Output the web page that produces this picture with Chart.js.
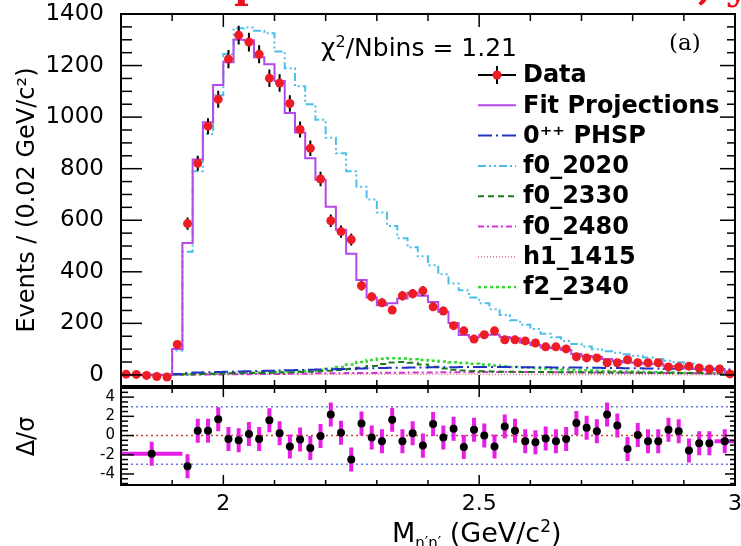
<!DOCTYPE html>
<html>
<head>
<meta charset="utf-8">
<script src="https://cdn.jsdelivr.net/npm/chart.js@4.4.1/dist/chart.umd.min.js"></script>
<style>
  html, body { margin: 0; padding: 0; background: #fff; }
  #wrap { position: relative; width: 741px; height: 546px; overflow: hidden; }
  canvas { position: absolute; left: 0; }
  #top { top: 0; }
  #bot { top: 380px; }
  .frame { position: absolute; box-sizing: border-box; border: 2px solid #000; pointer-events: none; }
  .txt { position: absolute; font-family: "DejaVu Sans", sans-serif; color: #000; white-space: nowrap; }
  .red { position: absolute; color: #e8101c; font: bold 40px "DejaVu Serif", serif; line-height: 40px; white-space: nowrap; }
</style>
</head>
<body>
<div id="wrap">
  <canvas id="top" width="741" height="394"></canvas>
  <canvas id="bot" width="741" height="166"></canvas>
  <div class="frame" style="left:120px; top:13px; width:616px; height:374px;"></div>
  <div class="frame" style="left:120px; top:387px; width:616px; height:99px;"></div>

  <div class="red" style="left:234px; top:-36px;">p</div>
  <div class="red" style="left:698px; top:-35px;">, y</div>

  <div class="txt" style="left:321px; top:27px; font-size:25px; line-height:30px;">χ<sup style="font-size:16px;">2</sup>/Nbins = 1.21</div>
  <div class="txt" style="left:669px; top:28px; font:23px 'DejaVu Serif', serif; line-height:28px;">(a)</div>
  <div class="txt" style="left:392px; top:510px; font-size:27px; line-height:32px;">M<sub style="font-size:15px;">η′η′</sub> (GeV/c<sup style="font-size:17px;">2</sup>)</div>
</div>

<script>
// ---- binning: 60 bins of 0.02 GeV/c^2 from 1.80 to 3.00 ----
const xStart = 1.8;
const xEnd = 3.0;
const binWidth = 0.02;

// ---- top panel: events per bin ----
const dataValues = [3, 2, -2, -6, -8, 118, 587, 821, 965, 1069,
  1225, 1318, 1291, 1244, 1151, 1132, 1053, 952, 879, 760,
  598, 556, 525, 346, 303, 280, 252, 307, 315, 326,
  264, 248, 191, 171, 139, 156, 171, 136, 136, 132,
  124, 109, 109, 101, 70, 66, 66, 47, 47, 59,
  47, 47, 47, 31, 31, 34, 27, 23, 23, 4];
const dataErr = [4, 4, 4, 4, 4, 11, 24, 29, 31, 33,
  35, 36, 36, 35, 34, 34, 32, 31, 30, 28,
  24, 24, 23, 19, 17, 17, 16, 18, 18, 18,
  16, 16, 14, 13, 12, 12, 13, 12, 12, 11,
  11, 10, 10, 10, 8, 8, 8, 7, 7, 8,
  7, 7, 7, 6, 6, 6, 5, 5, 5, 3];
const fitValues = [1, 1, 1, 1, 1, 101, 512, 836, 980, 1125,
  1213, 1300, 1298, 1232, 1205, 1140, 1016, 940, 840, 757,
  652, 563, 470, 368, 300, 270, 278, 296, 319, 307,
  283, 245, 201, 155, 146, 156, 156, 147, 142, 125,
  116, 106, 103, 97, 81, 73, 70, 62, 54, 48,
  47, 43, 43, 34, 34, 25, 23, 19, 20, 6];
const phspValues = [0, 0, 0, 0, 0, 4, 7, 9, 10, 11,
  12, 13, 14, 15, 16, 17, 18, 19, 20, 21,
  22, 23, 24, 25, 26, 27, 28, 28, 29, 29,
  30, 30, 30, 31, 31, 31, 31, 31, 31, 30,
  30, 30, 29, 29, 29, 28, 28, 27, 27, 26,
  26, 25, 25, 24, 24, 23, 23, 22, 22, 21];
const f02020Values = [0, 0, 0, 0, 0, 95, 478, 790, 935, 1085,
  1245, 1345, 1348, 1335, 1325, 1255, 1190, 1120, 1050, 990,
  920, 860, 790, 730, 680, 630, 578, 530, 495, 460,
  425, 390, 355, 328, 300, 278, 255, 232, 212, 195,
  178, 160, 146, 132, 120, 110, 100, 92, 86, 80,
  74, 68, 62, 55, 49, 43, 36, 30, 22, 12];
const f02330Values = [0, 0, 0, 0, 0, 2, 3, 4, 5, 5,
  6, 6, 7, 7, 8, 9, 10, 11, 12, 14,
  16, 19, 23, 28, 35, 42, 48, 50, 47, 40,
  32, 25, 20, 17, 15, 14, 13, 12, 12, 11,
  11, 11, 10, 10, 10, 10, 9, 9, 9, 9,
  8, 8, 8, 8, 7, 7, 7, 6, 6, 5];
const f02480Values = [0, 0, 0, 0, 0, 1, 1, 2, 2, 2,
  3, 3, 3, 4, 4, 4, 5, 5, 5, 6,
  6, 6, 7, 7, 7, 8, 8, 8, 9, 9,
  9, 10, 10, 10, 10, 11, 11, 11, 11, 11,
  11, 10, 10, 10, 10, 9, 9, 9, 8, 8,
  8, 7, 7, 7, 6, 6, 6, 5, 5, 5];
const h11415Values = [0, 0, 0, 0, 0, 2, 3, 3, 3, 3,
  3, 3, 3, 3, 3, 3, 3, 3, 3, 3,
  3, 3, 3, 3, 3, 3, 3, 3, 3, 3,
  3, 3, 3, 3, 3, 3, 2, 2, 2, 2,
  2, 2, 2, 2, 2, 2, 2, 2, 2, 2,
  2, 2, 2, 2, 1, 1, 1, 1, 1, 1];
const f22340Values = [0, 0, 0, 0, 0, 1, 2, 3, 4, 5,
  6, 7, 8, 9, 10, 11, 12, 14, 16, 19,
  24, 31, 40, 50, 58, 63, 65, 64, 61, 58,
  55, 52, 49, 46, 43, 40, 37, 34, 31, 29,
  27, 25, 23, 21, 19, 18, 16, 15, 14, 13,
  12, 11, 10, 9, 8, 7, 6, 6, 5, 4];

// ---- bottom panel: pulls; first and last bins are merged ----
const pullValues = [-1.9, -3.2, 0.5, 0.5, 1.7, -0.35, -0.5, 0.15, -0.35, 1.6,
  0.25, -1.15, -0.4, -1.3, -0.05, 2.2, 0.3, -2.5, 1.25, -0.2,
  -0.6, 1.65, -0.6, 0.25, -1.05, 1.2, -0.2, 0.7, -1.2, 0.6,
  0, -1.15, 0.95, 0.5, -0.6, -0.7, -0.3, -0.6, -0.35, 1.3,
  0.8, 0.45, 2.2, 1.05, -1.4, 0.05, -0.6, -0.6, 0.6, 0.45,
  -1.55, -0.8, -0.8, -0.6];
const pullErr = 1.25;
const pullEdges = [1.80];
for (let i = 0; i <= 52; i++) pullEdges.push(Math.round((1.92 + i * 0.02) * 100) / 100);
pullEdges.push(3.00);

// ---- axis ticks ----
const topYLabels = [0, 200, 400, 600, 800, 1000, 1200, 1400];
const pullYLabels = [-4, -2, 0, 2, 4];
const xLabels = [2, 2.5, 3];

Chart.defaults.font.family = '"DejaVu Sans", sans-serif';
Chart.defaults.color = '#000';

const stepPoints = vals => vals.map((v, i) => ({ x: xStart + i * binWidth, y: v }))
  .concat([{ x: xEnd, y: vals[vals.length - 1] }]);
const centerPoints = vals => vals.map((v, i) => ({ x: xStart + (i + 0.5) * binWidth, y: v }));

function stepSet(label, vals, color, dash, width) {
  return {
    label, data: stepPoints(vals), borderColor: color, borderDash: dash, borderWidth: width,
    stepped: true, pointRadius: 0, fill: false, tension: 0,
  };
}

// axis boxes take exactly the space we give them, no label overhang padding
const fixWidth = w => s => { s.width = w; s.paddingTop = 0; s.paddingBottom = 0; };
const fixHeight = h => s => { s.height = h; s.paddingLeft = 0; s.paddingRight = 0; };

// inward ROOT-style ticks on all four sides
function rootAxes(cfg) {
  return {
    id: 'rootAxes',
    afterDraw(chart) {
      const ctx = chart.ctx;
      const a = chart.chartArea;
      const sx = chart.scales.x, sy = chart.scales.y;
      const L = a.left, R = a.right, T = a.top, B = a.bottom;

      ctx.save();
      ctx.setLineDash([]);
      ctx.strokeStyle = '#000';
      ctx.lineWidth = 2;
      ctx.strokeRect(L, T, R - L, B - T);
      ctx.restore();

      const tick = (x1, y1, x2, y2) => {
        ctx.beginPath(); ctx.moveTo(x1, y1); ctx.lineTo(x2, y2); ctx.stroke();
      };
      ctx.save();
      ctx.setLineDash([]);
      ctx.strokeStyle = '#000';
      ctx.lineWidth = 1.5;
      const n = Math.round((cfg.yTo - cfg.yFrom) / cfg.yStep);
      for (let k = 0; k <= n; k++) {
        const v = cfg.yFrom + k * cfg.yStep;
        const major = Math.abs(v / cfg.yMajor - Math.round(v / cfg.yMajor)) < 1e-6;
        const py = sy.getPixelForValue(v);
        tick(L, py, L + (major ? cfg.yLeft[0] : cfg.yLeft[1]), py);
        tick(R, py, R - (major ? cfg.yRight[0] : cfg.yRight[1]), py);
      }
      for (let i = 0; i <= 12; i++) {
        const major = i === 2 || i === 7 || i === 12;
        const px = sx.getPixelForValue(1.8 + i * 0.1);
        tick(px, T, px, T + (major ? cfg.xTop[0] : cfg.xTop[1]));
        tick(px, B, px, B - (major ? cfg.xBot[0] : cfg.xBot[1]));
      }
      ctx.restore();
    }
  };
}

// vertical error bars under the data markers
const dataBars = {
  id: 'dataBars',
  beforeDatasetDraw(chart, args) {
    if (args.index !== 0) return;
    const { ctx, chartArea: a, scales: { x, y } } = chart;
    ctx.save();
    ctx.beginPath(); ctx.rect(a.left, a.top, a.right - a.left, a.bottom - a.top); ctx.clip();
    ctx.strokeStyle = '#000';
    ctx.lineWidth = 2;
    ctx.beginPath();
    dataValues.forEach((v, i) => {
      const px = x.getPixelForValue(xStart + (i + 0.5) * binWidth);
      ctx.moveTo(px, y.getPixelForValue(v - dataErr[i]));
      ctx.lineTo(px, y.getPixelForValue(v + dataErr[i]));
    });
    ctx.stroke();
    ctx.restore();
  }
};

const legendBox = {
  id: 'legendBox',
  afterDraw(chart) {
    const ctx = chart.ctx;
    const x1 = 478, x2 = 516, tx = 523, y0 = 75, dy = 30.3;
    ctx.save();
    ctx.font = 'bold 24px "DejaVu Sans"';
    ctx.textBaseline = 'middle';
    chart.data.datasets.forEach((ds, i) => {
      const y = y0 + i * dy;
      ctx.beginPath();
      if (i === 0) {
        ctx.strokeStyle = '#000'; ctx.lineWidth = 2; ctx.setLineDash([]);
        ctx.moveTo(x1, y); ctx.lineTo(x2, y);
        ctx.moveTo((x1 + x2) / 2, y - 9); ctx.lineTo((x1 + x2) / 2, y + 9);
        ctx.stroke();
        ctx.beginPath(); ctx.fillStyle = ds.backgroundColor;
        ctx.arc((x1 + x2) / 2, y, 4.5, 0, Math.PI * 2); ctx.fill();
      } else {
        ctx.strokeStyle = ds.borderColor; ctx.lineWidth = ds.borderWidth;
        ctx.setLineDash(ds.borderDash || []);
        ctx.moveTo(x1, y); ctx.lineTo(x2, y); ctx.stroke();
      }
      ctx.setLineDash([]);
      ctx.fillStyle = '#000';
      ctx.fillText(ds.label, tx, y + 1);
    });
    ctx.restore();
  }
};

new Chart(document.getElementById('top'), {
  type: 'line',
  data: {
    datasets: [
      { label: 'Data', data: centerPoints(dataValues), showLine: false, pointRadius: 4.5,
        pointBackgroundColor: '#ee1c24', backgroundColor: '#ee1c24', pointBorderWidth: 0, borderWidth: 0 },
      stepSet('Fit Projections', fitValues, '#b548e8', [], 2),
      stepSet('0⁺⁺ PHSP', phspValues, '#2233c4', [14, 4, 2, 4], 2),
      stepSet('f0_2020', f02020Values, '#4cbfe6', [8, 3, 2, 3, 2, 3], 2),
      stepSet('f0_2330', f02330Values, '#1d7a1d', [6, 4], 2),
      stepSet('f0_2480', f02480Values, '#d236d2', [6, 3, 2, 3], 2),
      stepSet('h1_1415', h11415Values, '#e07585', [1, 2], 1.5),
      stepSet('f2_2340', f22340Values, '#33d633', [3, 3], 2.5),
    ]
  },
  options: {
    responsive: false,
    animation: false,
    layout: { padding: { top: 14, right: 6, bottom: 8, left: 0 } },
    plugins: { legend: { display: false }, tooltip: { enabled: false } },
    scales: {
      x: { type: 'linear', min: xStart, max: xEnd, display: false },
      y: {
        min: -43, max: 1400,
        afterFit: fixWidth(121),
        afterBuildTicks: s => { s.ticks = topYLabels.map(v => ({ value: v })); },
        grid: { display: false, drawTicks: false },
        border: { display: false },
        ticks: { padding: 17, font: { size: 23 }, callback: v => String(v) },
        title: { display: true, text: 'Events / (0.02 GeV/c²)', font: { size: 24 }, padding: { top: 13, bottom: 0 } },
      }
    }
  },
  plugins: [dataBars, rootAxes({ yFrom: 0, yTo: 1400, yStep: 50, yMajor: 200, yLeft: [21, 11], yRight: [15, 8], xTop: [13, 7], xBot: [11, 6] }), legendBox]
});

// pull panel
const pullBars = {
  id: 'pullBars',
  beforeDatasetDraw(chart, args) {
    if (args.index !== 0) return;
    const { ctx, chartArea: a, scales: { x, y } } = chart;
    ctx.save();
    ctx.beginPath(); ctx.rect(a.left, a.top, a.right - a.left, a.bottom - a.top); ctx.clip();
    ctx.strokeStyle = '#e61ee6';
    ctx.lineWidth = 4;
    ctx.beginPath();
    pullValues.forEach((v, i) => {
      const lo = pullEdges[i], hi = pullEdges[i + 1];
      const px = x.getPixelForValue((lo + hi) / 2);
      const py = y.getPixelForValue(v);
      ctx.moveTo(px, y.getPixelForValue(v - pullErr));
      ctx.lineTo(px, y.getPixelForValue(v + pullErr));
      if (hi - lo > 0.03) { ctx.moveTo(x.getPixelForValue(lo), py); ctx.lineTo(x.getPixelForValue(hi), py); }
    });
    ctx.stroke();
    ctx.restore();
  }
};

const flatLine = (v, color) => ({
  data: [{ x: xStart, y: v }, { x: xEnd, y: v }], borderColor: color, borderWidth: 1.5,
  borderDash: [2, 3], pointRadius: 0, fill: false,
});

new Chart(document.getElementById('bot'), {
  type: 'line',
  data: {
    datasets: [
      { data: pullValues.map((v, i) => ({ x: (pullEdges[i] + pullEdges[i + 1]) / 2, y: v })),
        showLine: false, pointRadius: 4, pointBackgroundColor: '#000', pointBorderWidth: 0, borderWidth: 0 },
      flatLine(0, '#cc4433'),
      flatLine(3, '#6677e6'),
      flatLine(-3, '#6677e6'),
    ]
  },
  options: {
    responsive: false,
    animation: false,
    layout: { padding: { top: 8, right: 6, bottom: 0, left: 0 } },
    plugins: { legend: { display: false }, tooltip: { enabled: false } },
    scales: {
      x: {
        type: 'linear', min: xStart, max: xEnd,
        afterFit: fixHeight(61),
        afterBuildTicks: s => { s.ticks = xLabels.map(v => ({ value: v })); },
        grid: { display: false, drawTicks: false },
        border: { display: false },
        ticks: { padding: 6, font: { size: 22 }, maxRotation: 0, callback: v => String(v) },
      },
      y: {
        min: -5.15, max: 4.95,
        afterFit: fixWidth(121),
        afterBuildTicks: s => { s.ticks = pullYLabels.map(v => ({ value: v })); },
        grid: { display: false, drawTicks: false },
        border: { display: false },
        ticks: { padding: 6, font: { size: 15 }, callback: v => String(v) },
        title: { display: true, text: 'Δ/σ', font: { size: 24 }, padding: { top: 13, bottom: 0 } },
      }
    }
  },
  plugins: [pullBars, rootAxes({ yFrom: -5, yTo: 4.5, yStep: 0.5, yMajor: 2, yLeft: [13, 7], yRight: [10, 5], xTop: [9, 5], xBot: [10, 5] })]
});
</script>
</body>
</html>
